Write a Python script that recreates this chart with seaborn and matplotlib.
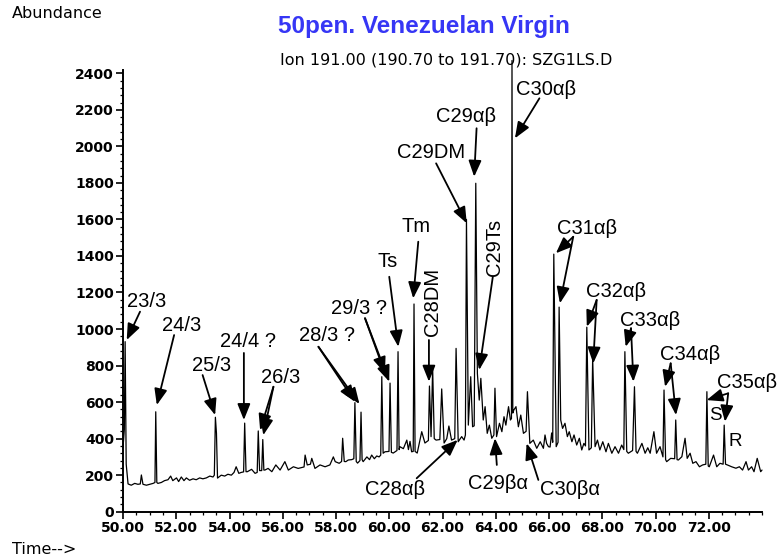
import matplotlib
matplotlib.use("Agg")
import matplotlib.pyplot as plt
from matplotlib.ticker import MultipleLocator, FixedLocator, FormatStrFormatter
import pandas as pd
import seaborn as sns

# m/z 191 ion trace: retention time (min) and abundance
retention_time = [
    50.00, 50.05, 50.08, 50.12, 50.19, 50.31, 50.44, 50.56, 50.65, 50.69,
    50.75, 50.88, 51.00, 51.13, 51.20, 51.23, 51.27, 51.31, 51.44, 51.56,
    51.69, 51.79, 51.87, 52.01, 52.09, 52.19, 52.29, 52.38, 52.50, 52.63,
    52.75, 52.88, 53.00, 53.13, 53.26, 53.38, 53.43, 53.47, 53.51, 53.55,
    53.69, 53.82, 53.94, 54.07, 54.17, 54.25, 54.35, 54.44, 54.53, 54.57,
    54.62, 54.67, 54.83, 54.96, 55.04, 55.08, 55.13, 55.21, 55.25, 55.29,
    55.33, 55.45, 55.59, 55.74, 55.90, 56.08, 56.21, 56.40, 56.58, 56.80,
    56.84, 56.92, 57.04, 57.09, 57.21, 57.40, 57.59, 57.77, 57.90, 57.97,
    58.12, 58.21, 58.25, 58.31, 58.37, 58.46, 58.59, 58.67, 58.71, 58.76,
    58.81, 58.90, 58.94, 58.98, 59.02, 59.16, 59.26, 59.34, 59.44, 59.53,
    59.62, 59.68, 59.72, 59.77, 59.84, 59.99, 60.03, 60.08, 60.15, 60.29,
    60.33, 60.37, 60.40, 60.53, 60.66, 60.72, 60.78, 60.84, 60.90, 60.93,
    60.97, 61.05, 61.22, 61.34, 61.47, 61.51, 61.57, 61.63, 61.69, 61.76,
    61.90, 61.97, 62.06, 62.16, 62.24, 62.34, 62.46, 62.51, 62.59, 62.72,
    62.81, 62.86, 62.90, 62.97, 63.06, 63.13, 63.19, 63.25, 63.31, 63.38,
    63.44, 63.53, 63.60, 63.68, 63.76, 63.85, 63.93, 63.97, 64.03, 64.14,
    64.23, 64.31, 64.38, 64.48, 64.55, 64.59, 64.61, 64.64, 64.68, 64.76,
    64.85, 64.94, 65.04, 65.14, 65.19, 65.28, 65.41, 65.54, 65.67, 65.79,
    65.85, 65.91, 65.98, 66.04, 66.10, 66.14, 66.18, 66.27, 66.34, 66.38,
    66.44, 66.51, 66.60, 66.69, 66.76, 66.86, 66.94, 67.04, 67.14, 67.23,
    67.31, 67.37, 67.42, 67.50, 67.59, 67.64, 67.73, 67.82, 67.91, 68.02,
    68.14, 68.23, 68.36, 68.48, 68.61, 68.73, 68.81, 68.85, 68.92, 68.98,
    69.14, 69.21, 69.27, 69.32, 69.49, 69.61, 69.71, 69.80, 69.94, 70.04,
    70.17, 70.28, 70.32, 70.38, 70.42, 70.57, 70.72, 70.76, 70.81, 70.86,
    70.99, 71.11, 71.19, 71.30, 71.40, 71.52, 71.65, 71.77, 71.89, 71.93,
    71.98, 72.02, 72.18, 72.30, 72.42, 72.54, 72.58, 72.63, 72.70, 72.86,
    73.02, 73.15, 73.27, 73.40, 73.49, 73.61, 73.70, 73.82, 73.95, 74.00,
]
abundance = [
    350, 450, 931, 260, 152, 145, 155, 150, 152, 201,
    150, 145, 150, 155, 160, 547, 160, 155, 160, 170,
    175, 195, 170, 185, 165, 190, 170, 185, 172, 180,
    175, 185, 180, 185, 195, 190, 200, 517, 430, 184,
    200, 195, 205, 200, 215, 246, 210, 215, 218, 485,
    219, 219, 232, 210, 215, 442, 225, 225, 395, 228,
    228, 237, 219, 256, 228, 274, 228, 246, 237, 245,
    310, 256, 260, 292, 237, 256, 246, 256, 300, 274,
    265, 275, 402, 275, 274, 283, 285, 290, 597, 275,
    266, 280, 545, 285, 274, 300, 285, 310, 290, 305,
    300, 310, 739, 320, 328, 330, 704, 325, 321, 335,
    876, 340, 356, 345, 392, 340, 385, 328, 330, 1137,
    330, 321, 438, 376, 390, 688, 411, 786, 400, 392,
    395, 672, 376, 400, 469, 392, 400, 894, 383, 411,
    392, 420, 1600, 474, 739, 465, 470, 1798, 757, 611,
    730, 502, 575, 429, 474, 402, 420, 676, 411, 484,
    438, 520, 474, 575, 502, 510, 2470, 540, 557, 575,
    465, 529, 429, 440, 657, 374, 392, 347, 383, 347,
    420, 374, 356, 354, 431, 380, 1410, 356, 380, 1120,
    502, 456, 484, 411, 438, 383, 420, 365, 402, 338,
    374, 360, 1010, 338, 350, 840, 356, 392, 338, 383,
    328, 374, 320, 356, 320, 365, 340, 876, 330, 320,
    335, 684, 330, 320, 374, 320, 350, 320, 438, 320,
    356, 300, 666, 285, 274, 292, 290, 502, 285, 283,
    301, 402, 292, 320, 265, 274, 246, 256, 260, 657,
    250, 246, 310, 246, 265, 260, 474, 260, 256, 246,
    238, 246, 228, 274, 228, 246, 219, 292, 219, 228,
]

# Peak identifications
peak_labels = [
    "23/3", "24/3", "25/3", "24/4 ?", "26/3", "28/3 ?", "29/3 ?", "Ts", "Tm",
    "C28DM", "C29DM", "C29αβ", "C29Ts", "C30αβ", "C31αβ", "C32αβ", "C33αβ",
    "C34αβ", "C35αβ", "C28αβ", "C29βα", "C30βα",
]
epimer_labels = ["S", "R"]

x_tick_values = [50, 52, 54, 56, 58, 60, 62, 64, 66, 68, 70, 72]
y_tick_values = [0, 200, 400, 600, 800, 1000, 1200, 1400, 1600, 1800, 2000, 2200, 2400]

title_text = "50pen. Venezuelan Virgin"
ion_text = "Ion 191.00 (190.70 to 191.70): SZG1LS.D"

# Label placement: text centre, rotation, and arrows (tail -> head)
label_layout = {
    "23/3": ((50.90, 1148), 0, [((50.64, 1095), (50.14, 940))]),
    "24/3": ((52.22, 1022), 0, [((51.92, 967), (51.27, 584))]),
    "25/3": ((53.31, 803), 0, [((52.99, 748), (53.46, 529))]),
    "24/4 ?": ((54.69, 929), 0, [((54.54, 869), (54.54, 502))]),
    "26/3": ((55.93, 737), 0, [((55.65, 684), (55.15, 446)), ((55.65, 684), (55.27, 419))]),
    "28/3 ?": ((57.66, 967), 0, [((57.34, 903), (58.71, 602)), ((57.34, 903), (58.88, 590))]),
    "29/3 ?": ((58.86, 1115), 0, [((59.09, 1059), (59.84, 758)), ((59.09, 1059), (60.00, 712))]),
    "Ts": ((59.95, 1372), 0, [((60.00, 1286), (60.34, 903))]),
    "Tm": ((60.99, 1564), 0, [((61.09, 1478), (60.90, 1168))]),
    "C28DM": ((61.64, 1148), 90, [((61.49, 940), (61.49, 712))]),
    "C29DM": ((61.57, 1969), 0, [((61.76, 1907), (62.91, 1579))]),
    "C29αβ": ((62.88, 2161), 0, [((63.28, 2099), (63.19, 1834))]),
    "C29Ts": ((63.96, 1444), 90, [((63.89, 1286), (63.38, 776))]),
    "C30αβ": ((65.89, 2314), 0, [((65.64, 2263), (64.72, 2044))]),
    "C31αβ": ((67.43, 1553), 0, [((66.91, 1505), (66.26, 1415)), ((66.91, 1505), (66.41, 1141))]),
    "C32αβ": ((68.52, 1208), 0, [((67.79, 1159), (67.42, 1013)), ((67.79, 1159), (67.66, 812))]),
    "C33αβ": ((69.79, 1049), 0, [((69.08, 1004), (68.88, 903)), ((69.08, 1004), (69.17, 712))]),
    "C34αβ": ((71.30, 863), 0, [((70.57, 812), (70.36, 684)), ((70.57, 812), (70.77, 529))]),
    "C35αβ": ((73.43, 705), 0, [((72.73, 648), (71.92, 611)), ((72.73, 648), (72.61, 493))]),
    "C28αβ": ((60.22, 119), 0, [((61.03, 183), (62.57, 393))]),
    "C29βα": ((64.08, 157), 0, [((64.04, 256), (63.97, 402))]),
    "C30βα": ((66.79, 119), 0, [((65.60, 174), (65.16, 374))]),
}
epimer_layout = {"S": (72.24, 529), "R": (72.99, 387)}

sns.set_style("ticks")
plt.rcParams["font.family"] = ["Liberation Sans", "DejaVu Sans"]
plt.rcParams["axes.linewidth"] = 1.4
plt.rcParams["text.color"] = "black"
plt.rcParams["axes.edgecolor"] = "black"

W, H = 779, 560
fig = plt.figure(figsize=(W / 100, H / 100), dpi=100)
ax = fig.add_axes([123 / W, 48.3 / H, 639 / W, 2420 * 0.18267 / H])

trace = pd.DataFrame({"time": retention_time, "abundance": abundance})
sns.lineplot(data=trace, x="time", y="abundance", ax=ax, color="black",
             linewidth=0.9, sort=False, clip_on=False)

ax.set_xlim(50, 74)
ax.set_ylim(0, 2420)
sns.despine(ax=ax)
ax.set_xlabel("")
ax.set_ylabel("")

ax.xaxis.set_major_locator(FixedLocator(x_tick_values))
ax.xaxis.set_major_formatter(FormatStrFormatter("%.2f"))
ax.xaxis.set_minor_locator(MultipleLocator(0.5))
ax.yaxis.set_major_locator(FixedLocator(y_tick_values))
ax.yaxis.set_minor_locator(MultipleLocator(40))
ax.tick_params(which="major", length=5, width=1.2, pad=1.5, colors="black")
ax.tick_params(which="minor", length=2.5, width=0.9, colors="black")
for lab in ax.get_xticklabels() + ax.get_yticklabels():
    lab.set_fontfamily("DejaVu Sans")
    lab.set_fontweight("bold")
    lab.set_fontsize(10)

arrow_style = dict(arrowstyle="-|>,head_length=0.7,head_width=0.28", color="black",
                   lw=1.3, shrinkA=0, shrinkB=0, mutation_scale=14)
for name in peak_labels:
    (tx, ty), rot, arrows = label_layout[name]
    ax.text(tx, ty, name, ha="center", va="center", rotation=rot,
            fontsize=14.5, color="black", clip_on=False)
    for tail, head in arrows:
        ax.annotate("", xy=head, xytext=tail, arrowprops=arrow_style,
                    annotation_clip=False)
for name in epimer_labels:
    tx, ty = epimer_layout[name]
    ax.text(tx, ty, name, ha="center", va="center", fontsize=13.5, color="black")

fig.text(12 / W, 1 - 14 / H, "Abundance", ha="left", va="center",
         fontsize=11.5, family="DejaVu Sans", color="black")
fig.text(12 / W, 1 - 550 / H, "Time-->", ha="left", va="center",
         fontsize=11.5, family="DejaVu Sans", color="black")
fig.text(424 / W, 1 - 26 / H, title_text, ha="center", va="center",
         fontsize=17.5, fontweight="bold", color="#3636f5")
fig.text(446 / W, 1 - 60 / H, ion_text, ha="center", va="center",
         fontsize=11.5, family="DejaVu Sans", color="black")

fig.savefig("out.png", dpi=100)
